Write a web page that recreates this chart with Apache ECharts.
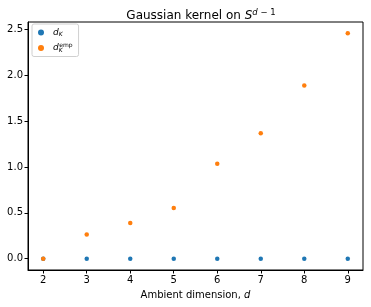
<!DOCTYPE html>
<html>
<head>
<meta charset="utf-8">
<script src="https://cdn.jsdelivr.net/npm/echarts@6/dist/echarts.min.js"></script>
<style>html,body{margin:0;padding:0;background:#fff}#c{width:371px;height:307px}</style>
</head>
<body>
<div id="c"></div>
<script>
var dims = [2, 3, 4, 5, 6, 7, 8, 9];
var dK = [0, 0, 0, 0, 0, 0, 0, 0];
var dKemp = [0, 0.264, 0.39, 0.553, 1.035, 1.37, 1.89, 2.46];
var xTicks = [2, 3, 4, 5, 6, 7, 8, 9];
var yTicks = [0, 0.5, 1.0, 1.5, 2.0, 2.5];

var chart = echarts.init(document.getElementById('c'));
var font = 'DejaVu Sans';
function pairs(xs, ys) { return xs.map(function (x, i) { return [x, ys[i]]; }); }
chart.setOption({
  animation: false,
  title: {
    text: 'Gaussian kernel on {i|S}{supi|d}{sup| − 1}',
    left: 196, top: 3, textAlign: 'center',
    textStyle: {
      fontFamily: font, fontSize: 12, fontWeight: 'normal', color: '#000',
      rich: {
        i: { fontFamily: font, fontSize: 12, fontStyle: 'italic', color: '#000' },
        supi: { fontFamily: font, fontSize: 8.5, fontStyle: 'italic', color: '#000', verticalAlign: 'top', padding: [0, 0, 6, 0] },
        sup: { fontFamily: font, fontSize: 8.5, color: '#000', verticalAlign: 'top', padding: [0, 0, 6, 0] }
      }
    }
  },
  grid: { left: 28, right: 8, top: 22, bottom: 37, show: true, borderColor: '#000', borderWidth: 1 },
  legend: {
    left: 32, top: 24, orient: 'vertical',
    itemWidth: 6, itemHeight: 6, itemGap: 5,
    padding: [4, 6, 3, 6],
    backgroundColor: '#fff', borderColor: '#d0d0d0', borderWidth: 1, borderRadius: 2,
    data: [{ name: 'dK', icon: 'circle' }, { name: 'dKemp', icon: 'circle' }],
    formatter: function (n) {
      return n === 'dK' ? '{i|d}{sub|K}' : '{i|d}{subn|K}{sup|emp}';
    },
    textStyle: {
      fontFamily: font, fontSize: 9, color: '#000', padding: [0, 0, 0, 4],
      rich: {
        i: { fontFamily: font, fontSize: 9, fontStyle: 'italic', color: '#000' },
        sub: { fontFamily: font, fontSize: 6, fontStyle: 'italic', color: '#000', verticalAlign: 'bottom', padding: [4, 0, 0, 0] },
        subn: { fontFamily: font, fontSize: 6, fontStyle: 'italic', color: '#000', verticalAlign: 'bottom', padding: [4, 0, 0, 0], width: 0.5, overflow: 'none' },
        sup: { fontFamily: font, fontSize: 6, color: '#000', verticalAlign: 'top', padding: [0, 0, 5, 0] }
      }
    }
  },
  xAxis: {
    type: 'value', min: 1.65, max: 9.35,
    name: 'Ambient dimension, {i|d}', nameLocation: 'middle', nameGap: 20,
    nameTextStyle: {
      fontFamily: font, fontSize: 10, color: '#000',
      rich: { i: { fontFamily: font, fontSize: 10, fontStyle: 'italic', color: '#000' } }
    },
    axisLine: { show: true, onZero: false, lineStyle: { color: '#000', width: 1 } },
    axisTick: { show: true, length: 3.5, inside: false, customValues: xTicks, lineStyle: { color: '#000' } },
    axisLabel: { customValues: xTicks, fontFamily: font, fontSize: 10, color: '#000', margin: 5 },
    splitLine: { show: false }
  },
  yAxis: {
    type: 'value', min: -0.123, max: 2.583,
    axisLine: { show: true, onZero: false, lineStyle: { color: '#000', width: 1 } },
    axisTick: { show: true, length: 3.5, inside: false, customValues: yTicks, lineStyle: { color: '#000' } },
    axisLabel: {
      customValues: yTicks, fontFamily: font, fontSize: 10, color: '#000', margin: 5,
      formatter: function (v) { return v.toFixed(1); }
    },
    splitLine: { show: false }
  },
  series: [
    { name: 'dK', type: 'scatter', symbol: 'circle', symbolSize: 4.5, itemStyle: { color: '#1f77b4', opacity: 1 }, data: pairs(dims, dK) },
    { name: 'dKemp', type: 'scatter', symbol: 'circle', symbolSize: 4.5, itemStyle: { color: '#ff7f0e', opacity: 1 }, data: pairs(dims, dKemp) }
  ]
});
</script>
</body>
</html>
